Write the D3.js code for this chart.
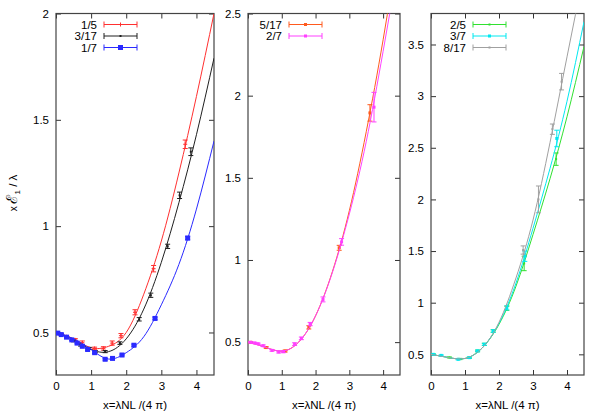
<!DOCTYPE html>
<html><head><meta charset="utf-8">
<script src="https://cdn.jsdelivr.net/npm/d3@7/dist/d3.min.js"></script>
<style>body{margin:0;background:#fff}svg{display:block;font-family:"Liberation Sans",Arial,sans-serif}</style>
</head><body><svg id="c" width="589" height="412"></svg>
<script>
// ---------- data ----------
const fitX = [0, 0.5, 1.0, 1.5, 2.0, 2.5, 3.0, 3.5, 4.0, 4.5];
// panel 1 fits
const fit_1_5  = [0.5, 0.47, 0.428, 0.435, 0.50, 0.68, 0.93, 1.25, 1.61, 2.0];
const fit_3_17 = [0.5, 0.465, 0.42, 0.41, 0.47, 0.61, 0.83, 1.11, 1.43, 1.79];
const fit_1_7  = [0.5, 0.47, 0.42, 0.375, 0.405, 0.48, 0.63, 0.82, 1.08, 1.40];
// panel 2 fits
const fit_5_17 = [0.5, 0.47, 0.445, 0.50, 0.66, 0.93, 1.30, 1.78, 2.34, 2.98];
const fit_2_7  = [0.5, 0.47, 0.445, 0.50, 0.66, 0.925, 1.28, 1.72, 2.27, 2.86];
// panel 3 fits
const fit_2_5  = [0.5, 0.47, 0.46, 0.56, 0.79, 1.16, 1.66, 2.2, 2.8, 3.48];
const fit_3_7  = [0.5, 0.47, 0.46, 0.56, 0.80, 1.19, 1.72, 2.3, 2.95, 3.72];
const fit_8_17 = [0.5, 0.47, 0.46, 0.56, 0.81, 1.24, 1.80, 2.55, 3.38, 4.2];

// data points
const pts_1_5_x = [0.05, 0.15, 0.3, 0.55, 0.75, 1.1, 1.35, 1.6, 1.85, 2.25, 2.78, 3.68];
const pts_1_5_y = [0.497, 0.49, 0.48, 0.465, 0.452, 0.425, 0.425, 0.45, 0.485, 0.595, 0.80, 1.385];
const pts_1_5_e = [0.004, 0.004, 0.005, 0.006, 0.008, 0.006, 0.008, 0.01, 0.01, 0.012, 0.015, 0.02];

const pts_3_17_x = [0.05, 0.15, 0.3, 0.5, 0.7, 0.95, 1.12, 1.4, 1.82, 2.37, 2.7, 3.18, 3.52, 3.84];
const pts_3_17_y = [0.497, 0.49, 0.478, 0.46, 0.44, 0.425, 0.41, 0.41, 0.45, 0.562, 0.675, 0.905, 1.145, 1.35];
const pts_3_17_e = [0.003, 0.003, 0.003, 0.004, 0.004, 0.005, 0.005, 0.005, 0.006, 0.008, 0.01, 0.01, 0.015, 0.018];

const pts_1_7_x = [0.05, 0.15, 0.3, 0.45, 0.6, 0.75, 0.9, 1.1, 1.4, 1.61, 1.88, 2.22, 2.82, 3.75];
const pts_1_7_y = [0.497, 0.49, 0.478, 0.465, 0.45, 0.435, 0.42, 0.405, 0.374, 0.378, 0.394, 0.44, 0.566, 0.944];
const pts_1_7_e = [0.003, 0.003, 0.003, 0.003, 0.003, 0.003, 0.004, 0.004, 0.004, 0.004, 0.004, 0.005, 0.006, 0.008];

const pts_5_17_x = [0.08, 0.54, 1.10, 1.80, 2.70, 3.61];
const pts_5_17_y = [0.499, 0.467, 0.446, 0.59, 1.074, 1.895];
const pts_5_17_e = [0.004, 0.005, 0.006, 0.01, 0.015, 0.05];

const pts_2_7_x = [0.08, 0.2, 0.3, 0.45, 0.71, 0.91, 1.05, 1.38, 1.58, 1.84, 2.22, 2.77, 3.73];
const pts_2_7_y = [0.499, 0.495, 0.49, 0.478, 0.45, 0.44, 0.442, 0.488, 0.523, 0.61, 0.76, 1.11, 1.93];
const pts_2_7_e = [0.004, 0.004, 0.004, 0.005, 0.005, 0.006, 0.006, 0.008, 0.008, 0.01, 0.015, 0.02, 0.09];

const pts_2_5_x = [0.07, 0.54, 0.85, 1.13, 1.37, 1.57, 1.83, 2.23, 2.74, 3.68];
const pts_2_5_y = [0.5, 0.47, 0.455, 0.468, 0.533, 0.597, 0.726, 0.946, 1.38, 2.39];
const pts_2_5_e = [0.004, 0.005, 0.006, 0.006, 0.008, 0.01, 0.012, 0.02, 0.07, 0.06];

const pts_3_7_x = [0.07, 0.3, 0.8, 1.13, 1.37, 1.57, 1.83, 2.23, 2.76, 3.7];
const pts_3_7_y = [0.5, 0.49, 0.452, 0.468, 0.533, 0.597, 0.726, 0.95, 1.45, 2.59];
const pts_3_7_e = [0.004, 0.005, 0.006, 0.006, 0.008, 0.01, 0.012, 0.02, 0.05, 0.08];

const pts_8_17_x = [2.71, 3.16, 3.57, 3.84];
const pts_8_17_y = [1.51, 2.0, 2.68, 3.14];
const pts_8_17_e = [0.04, 0.13, 0.05, 0.08];

const xTicks = [0, 1, 2, 3, 4];
const yTicks1 = [0.5, 1, 1.5, 2];
const yTicks2 = [0.5, 1, 1.5, 2, 2.5];
const yTicks3 = [0.5, 1, 1.5, 2, 2.5, 3, 3.5];

// ---------- layout ----------
const panels = [
  {x0: 56, x1: 214, yDom: [0.3, 2], yTicks: yTicks1, legX: 97,
   series: [
     {name: "1/5",  color: "#ff3030", fit: fit_1_5,  px: pts_1_5_x,  py: pts_1_5_y,  pe: pts_1_5_e,  mark: "plus"},
     {name: "3/17", color: "#202020", fit: fit_3_17, px: pts_3_17_x, py: pts_3_17_y, pe: pts_3_17_e, mark: "dot"},
     {name: "1/7",  color: "#2a2aff", fit: fit_1_7,  px: pts_1_7_x,  py: pts_1_7_y,  pe: pts_1_7_e,  mark: "bigsq"}
   ]},
  {x0: 248, x1: 400, yDom: [0.3, 2.5], yTicks: yTicks2, legX: 282,
   series: [
     {name: "5/17", color: "#ff5a1e", fit: fit_5_17, px: pts_5_17_x, py: pts_5_17_y, pe: pts_5_17_e, mark: "sq"},
     {name: "2/7",  color: "#ff40ff", fit: fit_2_7,  px: pts_2_7_x,  py: pts_2_7_y,  pe: pts_2_7_e,  mark: "sq"}
   ]},
  {x0: 431, x1: 584, yDom: [0.3, 3.8], yTicks: yTicks3, legX: 466,
   series: [
     {name: "2/5",  color: "#30e030", fit: fit_2_5,  px: pts_2_5_x,  py: pts_2_5_y,  pe: pts_2_5_e,  mark: "dot"},
     {name: "3/7",  color: "#00e8f0", fit: fit_3_7,  px: pts_3_7_x,  py: pts_3_7_y,  pe: pts_3_7_e,  mark: "sq"},
     {name: "8/17", color: "#a0a0a0", fit: fit_8_17, px: pts_8_17_x, py: pts_8_17_y, pe: pts_8_17_e, mark: "dot"}
   ]}
];
const plotTop = 13.5, plotBottom = 375;
const svg = d3.select("#c");
const fontSize = 11.5;

function drawMark(g, cx, cy, mark, color) {
  if (mark === "plus") {
    g.append("path").attr("d", `M${cx-2},${cy}H${cx+2}M${cx},${cy-2}V${cy+2}`).attr("stroke", color).attr("stroke-width", 1);
  } else if (mark === "dot") {
    g.append("rect").attr("x", cx-1).attr("y", cy-1).attr("width", 2).attr("height", 2).attr("fill", color);
  } else if (mark === "sq") {
    g.append("rect").attr("x", cx-1.5).attr("y", cy-1.5).attr("width", 3).attr("height", 3).attr("fill", color);
  } else if (mark === "bigsq") {
    g.append("rect").attr("x", cx-2.5).attr("y", cy-2.5).attr("width", 5).attr("height", 5).attr("fill", color);
  }
}

panels.forEach((p, pi) => {
  const x = d3.scaleLinear().domain([0, 4.5]).range([p.x0, p.x1]);
  const y = d3.scaleLinear().domain(p.yDom).range([plotBottom, plotTop]);
  const g = svg.append("g");
  const clipId = "clip" + pi;
  svg.append("clipPath").attr("id", clipId).append("rect")
    .attr("x", p.x0).attr("y", plotTop).attr("width", p.x1 - p.x0).attr("height", plotBottom - plotTop);

  const tl = 5;
  const axB = d3.axisBottom(x).tickValues(xTicks).tickSize(-tl).tickPadding(7).tickFormat(d3.format("d"));
  const axT = d3.axisTop(x).tickValues(xTicks).tickSize(-tl).tickFormat("");
  const axL = d3.axisLeft(y).tickValues(p.yTicks).tickSize(-tl).tickPadding(7).tickFormat(d => String(d));
  const axR = d3.axisRight(y).tickValues(p.yTicks).tickSize(-tl).tickFormat("");
  [[axB, `translate(0,${plotBottom})`], [axT, `translate(0,${plotTop})`], [axL, `translate(${p.x0},0)`], [axR, `translate(${p.x1},0)`]]
    .forEach(([ax, tr]) => {
      const a = g.append("g").attr("transform", tr).call(ax);
      a.select(".domain").remove();
      a.selectAll(".tick line").attr("stroke", "#333").attr("stroke-width", 1);
      a.selectAll(".tick text").attr("fill", "#000").attr("font-size", fontSize).attr("font-family", '"Liberation Sans",Arial,sans-serif');
    });
  g.append("rect").attr("x", p.x0).attr("y", plotTop).attr("width", p.x1 - p.x0).attr("height", plotBottom - plotTop)
    .attr("fill", "none").attr("stroke", "#444").attr("stroke-width", 1.2);

  const plot = g.append("g").attr("clip-path", `url(#${clipId})`);
  const line = d3.line().x(d => x(d[0])).y(d => y(d[1])).curve(d3.curveNatural);
  p.series.forEach(s => {
    plot.append("path").datum(fitX.map((v, i) => [v, s.fit[i]]))
      .attr("d", line).attr("fill", "none").attr("stroke", s.color).attr("stroke-width", 1);
    s.px.forEach((xv, i) => {
      const cx = x(xv), cy = y(s.py[i]), y0 = y(s.py[i] - s.pe[i]), y1 = y(s.py[i] + s.pe[i]);
      plot.append("path").attr("d", `M${cx},${y0}V${y1}M${cx-2.5},${y0}H${cx+2.5}M${cx-2.5},${y1}H${cx+2.5}`)
        .attr("stroke", s.color).attr("stroke-width", 1).attr("fill", "none");
      drawMark(plot, cx, cy, s.mark, s.color);
    });
  });

  p.series.forEach((s, i) => {
    const ly = 24.5 + i * 11.5;
    g.append("text").attr("x", p.legX).attr("y", ly).attr("dy", "0.35em").attr("text-anchor", "end")
      .attr("font-size", fontSize).text(s.name);
    const lx0 = p.legX + 7, lx1 = p.legX + 40, lc = (lx0 + lx1) / 2;
    g.append("path").attr("d", `M${lx0},${ly}H${lx1}M${lx0},${ly-3}V${ly+3}M${lx1},${ly-3}V${ly+3}`)
      .attr("stroke", s.color).attr("stroke-width", 1).attr("fill", "none");
    drawMark(g, lc, ly, s.mark, s.color);
  });

  g.append("text").attr("x", (p.x0 + p.x1) / 2).attr("y", 409).attr("text-anchor", "middle")
    .attr("font-size", fontSize).text("x=λNL /(4 π)");
});

const yl = svg.append("text").attr("transform", "translate(17,193) rotate(-90)").attr("text-anchor", "middle")
  .attr("font-size", fontSize);
yl.append("tspan").attr("font-size", 10).text("x ");
yl.append("tspan").attr("font-size", 15).text("ℰ");
yl.append("tspan").attr("font-size", 8).attr("dy", 3).text("1");
yl.append("tspan").attr("dy", -3).text(" / λ");
</script></body></html>
